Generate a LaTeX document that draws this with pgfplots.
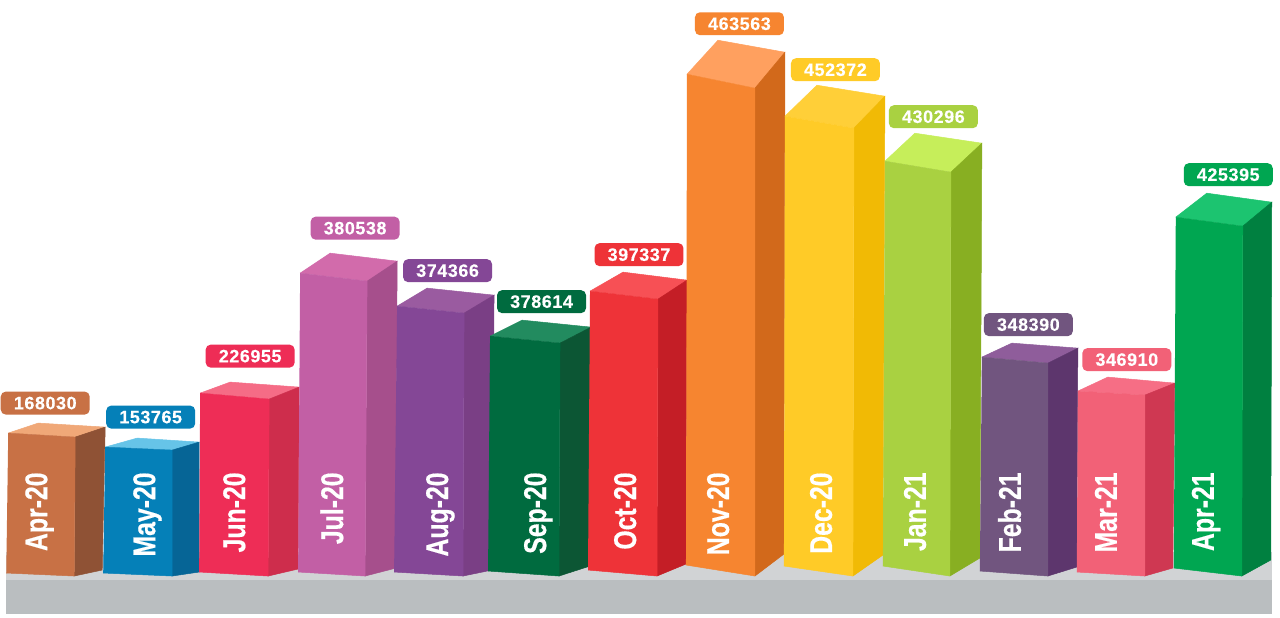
\documentclass[border=0pt]{standalone}
\usepackage{pgfplots}
\usepackage{graphicx}
\usepackage{fontspec}
\setmainfont{Liberation Sans}
\newfontfamily\valfont[LetterSpace=3,FakeBold=0.2]{Liberation Sans Bold}
\newfontfamily\monfont[FakeBold=0.5]{Liberation Sans Bold}
\pgfplotsset{compat=1.18}

\definecolor{floorL}{HTML}{D1D3D5}
\definecolor{floorD}{HTML}{BABEC0}
\definecolor{c1}{HTML}{C87145}   \definecolor{c1side}{HTML}{8F5235}   \definecolor{c1top}{HTML}{F0A878}
\definecolor{c2}{HTML}{0580B8}   \definecolor{c2side}{HTML}{066596}   \definecolor{c2top}{HTML}{66C4E8}
\definecolor{c3}{HTML}{EE2D56}   \definecolor{c3side}{HTML}{CE2D4C}   \definecolor{c3top}{HTML}{F56C86}
\definecolor{c4}{HTML}{C25FA5}   \definecolor{c4side}{HTML}{A64F8C}   \definecolor{c4top}{HTML}{D26BAB}
\definecolor{c5}{HTML}{844796}   \definecolor{c5side}{HTML}{7A3F85}   \definecolor{c5top}{HTML}{9A5BA0}
\definecolor{c6}{HTML}{006B3F}   \definecolor{c6side}{HTML}{0C5634}   \definecolor{c6top}{HTML}{228B5F}
\definecolor{c7}{HTML}{EE3338}   \definecolor{c7side}{HTML}{C41E26}   \definecolor{c7top}{HTML}{F75055}
\definecolor{c8}{HTML}{F68530}   \definecolor{c8side}{HTML}{D2691B}   \definecolor{c8top}{HTML}{FFA05F}
\definecolor{c9}{HTML}{FFCB27}   \definecolor{c9side}{HTML}{F1BA05}   \definecolor{c9top}{HTML}{FFCF38}
\definecolor{c10}{HTML}{A9D141}  \definecolor{c10side}{HTML}{88AF22}  \definecolor{c10top}{HTML}{C6EE5A}
\definecolor{c11}{HTML}{71557F}  \definecolor{c11side}{HTML}{5D366D}  \definecolor{c11top}{HTML}{8F5D9B}
\definecolor{c12}{HTML}{F26177}  \definecolor{c12side}{HTML}{CF3852}  \definecolor{c12top}{HTML}{F66E85}
\definecolor{c13}{HTML}{00A651}  \definecolor{c13side}{HTML}{008040}  \definecolor{c13top}{HTML}{1CC470}

% value boxes and the month names written up the bars
\tikzset{
  val/.style={fill=#1, draw=none, rounded corners=2.5pt, text=white, inner sep=0pt,
    minimum width=44.5pt, minimum height=11.5pt,
    font=\fontsize{9pt}{10pt}\valfont},
  mon/.style={rotate=90, anchor=base east, inner sep=0pt, text=white,
    font=\fontsize{12.4pt}{14pt}\monfont}
}
\pgfplotsset{face/.style={fill=#1, draw=#1, line width=0.25pt, mark=none, forget plot}}
\newcommand{\mon}[1]{\scalebox{1}[1.27]{#1}}

\begin{document}
\begin{tikzpicture}
\begin{axis}[
  scale only axis, width=640pt, height=308.5pt,
  xmin=0, xmax=1280, ymin=0, ymax=617, y dir=reverse,
  hide axis, clip=false
]
% page and floor
\addplot[face=white] coordinates {(0,0) (1280,0) (1280,617) (0,617)};
\addplot[face=floorL] coordinates {(6,552) (1271,552) (1271,581) (6,581)};
\addplot[face=floorD] coordinates {(6,580) (1271,580) (1271,613) (6,613)};

% Apr-20
\addplot[face=c1top] coordinates {(8,433) (38,423) (105,427) (75,437)};
\addplot[face=c1side] coordinates {(75,437) (105,427) (102,570) (74,576)};
\addplot[face=c1] coordinates {(8,433) (75,437) (74,576) (6,573)};
% May-20
\addplot[face=c2top] coordinates {(105,447) (137,438) (199,442) (172,450)};
\addplot[face=c2side] coordinates {(172,450) (199,442) (199,572) (172,576)};
\addplot[face=c2] coordinates {(105,447) (172,450) (172,576) (103,573)};
% Jun-20
\addplot[face=c3top] coordinates {(200,393) (230,382) (299,387) (269,399)};
\addplot[face=c3side] coordinates {(269,399) (299,387) (298,569) (268,576)};
\addplot[face=c3] coordinates {(200,393) (269,399) (268,576) (199,572)};
% Jul-20
\addplot[face=c4top] coordinates {(300,273) (330,253) (397,261) (367,281)};
\addplot[face=c4side] coordinates {(367,281) (397,261) (396,568) (365,576)};
\addplot[face=c4] coordinates {(300,273) (367,281) (365,576) (298,572)};
% Aug-20
\addplot[face=c5top] coordinates {(397,306) (427,288) (494,295) (464,313)};
\addplot[face=c5side] coordinates {(464,313) (494,295) (492,570) (463,576)};
\addplot[face=c5] coordinates {(397,306) (464,313) (463,576) (394,572)};
% Sep-20
\addplot[face=c6top] coordinates {(490,336) (522,320) (591,327) (560,343)};
\addplot[face=c6side] coordinates {(560,343) (591,327) (590,566) (559,576)};
\addplot[face=c6] coordinates {(490,336) (560,343) (559,576) (488,571)};
% Oct-20
\addplot[face=c7top] coordinates {(590,291) (623,272) (687,280) (658,299)};
\addplot[face=c7side] coordinates {(658,299) (687,280) (686,564) (657,576)};
\addplot[face=c7] coordinates {(590,291) (658,299) (657,576) (588,570)};
% Nov-20
\addplot[face=c8top] coordinates {(687,74) (718,40) (785,52) (755,88)};
\addplot[face=c8side] coordinates {(755,88) (785,52) (784,554) (755,576)};
\addplot[face=c8] coordinates {(687,74) (755,88) (755,576) (686,565)};
% Dec-20
\addplot[face=c9top] coordinates {(785,116) (817,85) (885,96) (854,128)};
\addplot[face=c9side] coordinates {(854,128) (885,96) (883,555) (853,576)};
\addplot[face=c9] coordinates {(785,116) (854,128) (853,576) (784,566)};
% Jan-21
\addplot[face=c10top] coordinates {(885,161) (915,133) (982,143) (951,172)};
\addplot[face=c10side] coordinates {(951,172) (982,143) (980,558) (950,576)};
\addplot[face=c10] coordinates {(885,161) (951,172) (950,576) (883,566)};
% Feb-21
\addplot[face=c11top] coordinates {(982,357) (1012,343) (1078,348) (1048,363)};
\addplot[face=c11side] coordinates {(1048,363) (1078,348) (1077,567) (1048,576)};
\addplot[face=c11] coordinates {(982,357) (1048,363) (1048,576) (980,571)};
% Mar-21
\addplot[face=c12top] coordinates {(1078,391) (1108,377) (1175,383) (1145,395)};
\addplot[face=c12side] coordinates {(1145,395) (1175,383) (1173,568) (1145,576)};
\addplot[face=c12] coordinates {(1078,391) (1145,395) (1145,576) (1077,572)};
% Apr-21
\addplot[face=c13top] coordinates {(1176,217) (1207,193) (1272,202) (1243,226)};
\addplot[face=c13side] coordinates {(1243,226) (1272,202) (1271,560) (1242,576)};
\addplot[face=c13] coordinates {(1176,217) (1243,226) (1242,576) (1174,568)};

% month names
\node[mon] at (axis cs:47,472) {\mon{Apr-20}};
\node[mon] at (axis cs:155,472) {\mon{May-20}};
\node[mon] at (axis cs:245,472) {\mon{Jun-20}};
\node[mon] at (axis cs:343,472) {\mon{Jul-20}};
\node[mon] at (axis cs:448,472) {\mon{Aug-20}};
\node[mon] at (axis cs:546,472) {\mon{Sep-20}};
\node[mon] at (axis cs:636,472) {\mon{Oct-20}};
\node[mon] at (axis cs:729,472) {\mon{Nov-20}};
\node[mon] at (axis cs:832,472) {\mon{Dec-20}};
\node[mon] at (axis cs:926,472) {\mon{Jan-21}};
\node[mon] at (axis cs:1021,472) {\mon{Feb-21}};
\node[mon] at (axis cs:1117,472) {\mon{Mar-21}};
\node[mon] at (axis cs:1214,472) {\mon{Apr-21}};

% values
\node[val=c1] at (axis cs:45,403) {168030};
\node[val=c2] at (axis cs:150.5,417) {153765};
\node[val=c3] at (axis cs:250,356) {226955};
\node[val=c4] at (axis cs:355,228) {380538};
\node[val=c5] at (axis cs:447.5,270.5) {374366};
\node[val=c6] at (axis cs:541.5,301.5) {378614};
\node[val=c7] at (axis cs:639,254.5) {397337};
\node[val=c8] at (axis cs:739.5,23.5) {463563};
\node[val=c9] at (axis cs:835.5,69.5) {452372};
\node[val=c10] at (axis cs:933.5,116.5) {430296};
\node[val=c11] at (axis cs:1028.5,324.5) {348390};
\node[val=c12] at (axis cs:1127,359.5) {346910};
\node[val=c13] at (axis cs:1228.5,174.5) {425395};
\end{axis}
\end{tikzpicture}
\end{document}
